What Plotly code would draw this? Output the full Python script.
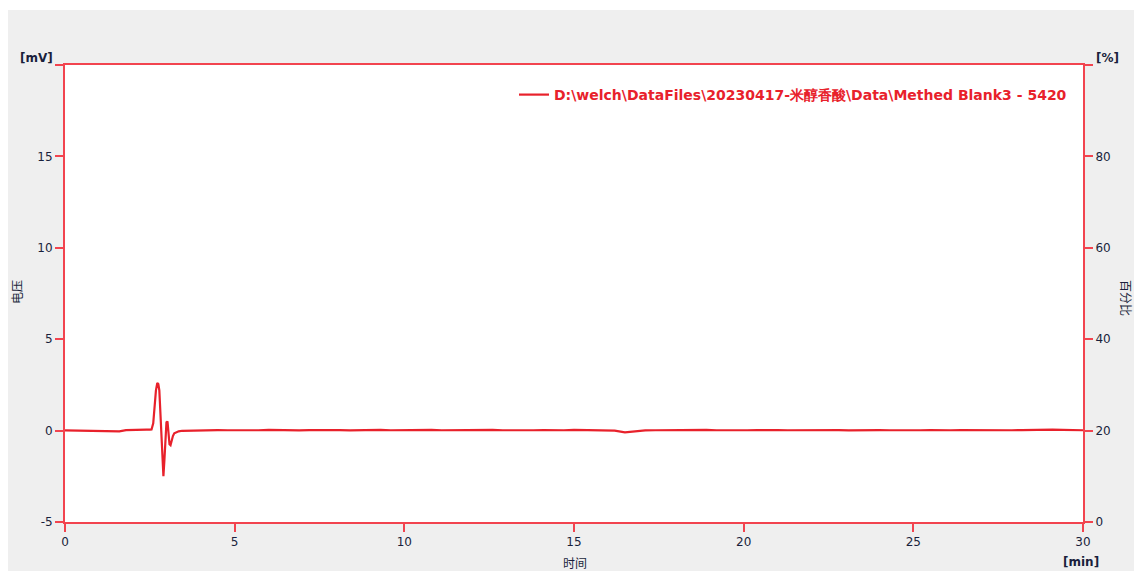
import plotly.graph_objects as go

# Chromatogram samples: retention time [min] and detector voltage [mV]
time_pre = [0.0, 0.2, 0.4, 0.6, 0.8, 1.0, 1.2, 1.4, 1.6, 1.8, 2.0, 2.2, 2.4, 2.5]
volt_pre = [0.01, 0.0, 0.02, 0.0, 0.01, -0.02, -0.05, -0.06, -0.04, 0.03, 0.05, 0.04, 0.05, 0.05]

time_peak = [2.55, 2.6, 2.64, 2.68, 2.72, 2.75, 2.78, 2.81, 2.84, 2.87, 2.9, 2.93,
             2.96, 2.99, 3.02, 3.05, 3.08, 3.11, 3.14, 3.18, 3.22, 3.28, 3.35, 3.45]
volt_peak = [0.06, 0.4, 1.4, 2.2, 2.6, 2.55, 2.2, 1.0, -0.6, -1.9, -2.5, -1.6,
             -0.3, 0.45, 0.5, -0.2, -0.75, -0.8, -0.5, -0.3, -0.15, -0.08, -0.04, -0.01]

time_post = [3.6, 3.9, 4.2, 4.5, 4.8, 5.1, 5.4, 5.7, 6.0, 6.3,
             6.6, 6.9, 7.2, 7.5, 7.8, 8.1, 8.4, 8.7, 9.0, 9.3,
             9.6, 9.9, 10.2, 10.5, 10.8, 11.1, 11.4, 11.7, 12.0, 12.3,
             12.6, 12.9, 13.2, 13.5, 13.8, 14.1, 14.4, 14.7, 15.0, 15.3,
             15.6, 15.9, 16.2, 16.5, 16.8, 17.1, 17.4, 17.7, 18.0, 18.3,
             18.6, 18.9, 19.2, 19.5, 19.8, 20.1, 20.4, 20.7, 21.0, 21.3,
             21.6, 21.9, 22.2, 22.5, 22.8, 23.1, 23.4, 23.7, 24.0, 24.3,
             24.6, 24.9, 25.2, 25.5, 25.8, 26.1, 26.4, 26.7, 27.0, 27.3,
             27.6, 27.9, 28.2, 28.5, 28.8, 29.1, 29.4, 29.7, 30.0]
volt_post = [0.0, 0.02, 0.01, 0.03, 0.02, 0.01, 0.03, 0.02, 0.04, 0.02,
             0.03, 0.01, 0.03, 0.04, 0.02, 0.03, 0.01, 0.03, 0.02, 0.04,
             0.02, 0.03, 0.01, 0.02, 0.04, 0.02, 0.03, 0.01, 0.03, 0.02,
             0.04, 0.02, 0.01, 0.03, 0.02, 0.03, 0.01, 0.02, 0.04, 0.02,
             0.03, 0.01, 0.0, -0.1, -0.04, 0.01, 0.02, 0.03, 0.01, 0.03,
             0.02, 0.04, 0.02, 0.01, 0.03, 0.02, 0.03, 0.01, 0.03, 0.02,
             0.03, 0.02, 0.04, 0.02, 0.03, 0.01, 0.03, 0.02, 0.03, 0.02,
             0.01, 0.03, 0.02, 0.03, 0.01, 0.02, 0.03, 0.02, 0.04, 0.02,
             0.03, 0.02, 0.03, 0.05, 0.06, 0.05, 0.04, 0.03, 0.02]

x_ticks = [0, 5, 10, 15, 20, 25, 30]
y_ticks = [-5, 0, 5, 10, 15, 20]
y_labels = ["-5", "0", "5", "10", "15", ""]
pct_ticks = [0, 20, 40, 60, 80, 100]
pct_labels = ["0", "20", "40", "60", "80", ""]

series_name = "D:\\welch\\DataFiles\\20230417-米醇香酸\\Data\\Methed Blank3 - 5420"

time = time_pre + time_peak + time_post
volt = volt_pre + volt_peak + volt_post

FRAME = "#f2444f"
LINE = "#e8212b"
INK = "#1a1f3c"
TICK_FONT = dict(family="DejaVu Sans", size=12, color=INK)
UNIT_FONT = dict(family="DejaVu Sans", size=12, color=INK, weight="bold")
CJK_FONT = dict(family="Noto Sans CJK SC", size=12, color=INK)

fig = go.Figure()
fig.add_trace(go.Scatter(x=time, y=volt, mode="lines", name=series_name,
                         line=dict(color=LINE, width=2.2)))
# invisible trace to activate the percent axis
fig.add_trace(go.Scatter(x=[0], y=[0], yaxis="y2", mode="markers",
                         marker=dict(opacity=0), showlegend=False, hoverinfo="skip"))

L, R, T, B = 65, 51, 65, 49
W, H = 1134, 571
pw, ph = W - L - R, H - T - B


def px(xp):
    return (xp - L) / pw


def py(yp):
    return (H - B - yp) / ph


def label(text, x, y, font, **kw):
    return dict(text=text, x=px(x), y=py(y), xref="paper", yref="paper",
                xanchor=kw.pop("xanchor", "center"), yanchor=kw.pop("yanchor", "middle"),
                showarrow=False, font=font, **kw)


fig.update_layout(
    width=W, height=H,
    margin=dict(l=L, r=R, t=T, b=B, pad=0),
    paper_bgcolor="#efefef",
    plot_bgcolor="white",
    showlegend=True,
    legend=dict(x=px(1072), y=py(95), xanchor="right", yanchor="middle",
                bgcolor="rgba(0,0,0,0)", itemwidth=30,
                font=dict(family="DejaVu Sans", size=14, color=LINE, weight="bold")),
    xaxis=dict(range=[0, 30], tickvals=x_ticks, showgrid=False, zeroline=False,
               showline=True, linecolor=FRAME, linewidth=2, mirror=True,
               ticks="outside", ticklen=8, tickcolor=FRAME, tickwidth=2,
               tickfont=TICK_FONT),
    yaxis=dict(range=[-5, 20], tickvals=y_ticks, ticktext=y_labels, showgrid=False,
               zeroline=False, showline=True, linecolor=FRAME, linewidth=2,
               ticks="outside", ticklen=8, tickcolor=FRAME, tickwidth=2,
               tickfont=TICK_FONT),
    yaxis2=dict(range=[0, 100], tickvals=pct_ticks, ticktext=pct_labels, overlaying="y",
                side="right", showgrid=False, zeroline=False, showline=True,
                linecolor=FRAME, linewidth=2, ticks="outside", ticklen=8,
                tickcolor=FRAME, tickwidth=2, tickfont=TICK_FONT),
    shapes=[
        dict(type="rect", xref="paper", yref="paper", x0=px(0), x1=px(W + 5),
             y0=py(10), y1=py(-5), fillcolor="white", line=dict(width=0), layer="below"),
        dict(type="rect", xref="paper", yref="paper", x0=px(-5), x1=px(8),
             y0=py(H + 5), y1=py(-5), fillcolor="white", line=dict(width=0), layer="below"),
    ],
    annotations=[
        label("[mV]", 36, 58, UNIT_FONT),
        label("[%]", 1107, 58, UNIT_FONT),
        label("[min]", 1081, 562, UNIT_FONT),
        label("电压", 16, 292, CJK_FONT, textangle=-90),
        label("时间", 575, 562, CJK_FONT),
        label("百分比", 1127, 298, CJK_FONT, textangle=90),
    ],
)

fig.write_html("out.html")
